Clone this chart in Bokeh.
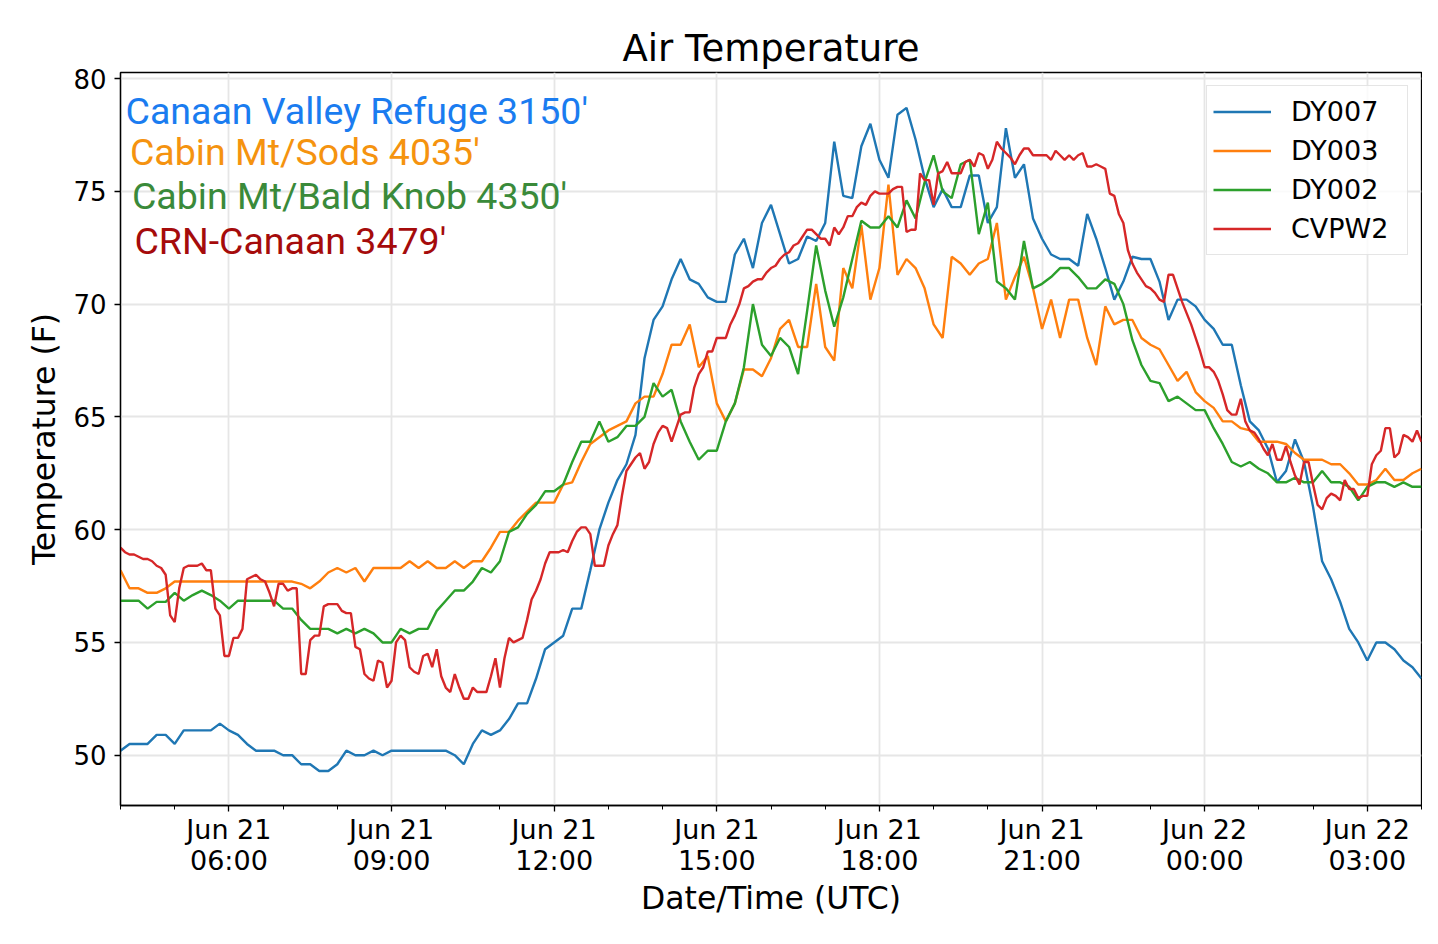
import pandas as pd
from bokeh.plotting import figure
from bokeh.models import Range1d, FixedTicker, Legend, LegendItem, Label
from bokeh.embed import file_html
from bokeh.resources import INLINE

START = pd.Timestamp("2018-06-21 04:00")
END = pd.Timestamp("2018-06-22 04:00")

# 10 minute stations
dy007 = [
    50.2, 50.5, 50.5, 50.5, 50.9, 50.9, 50.5, 51.1, 51.1, 51.1, 51.1, 51.4,
    51.1, 50.9, 50.5, 50.2, 50.2, 50.2, 50.0, 50.0, 49.6, 49.6, 49.3, 49.3,
    49.6, 50.2, 50.0, 50.0, 50.2, 50.0, 50.2, 50.2, 50.2, 50.2, 50.2, 50.2,
    50.2, 50.0, 49.6, 50.5, 51.1, 50.9, 51.1, 51.6, 52.3, 52.3, 53.4, 54.7,
    55.0, 55.3, 56.5, 56.5, 58.2, 60.0, 61.2, 62.2, 62.9, 64.2, 67.6, 69.3,
    69.9, 71.1, 72.0, 71.1, 70.9, 70.3, 70.1, 70.1, 72.2, 72.9, 71.6, 73.6,
    74.4, 73.1, 71.8, 72.0, 73.0, 72.8, 73.6, 77.2, 74.8, 74.7, 77.0, 78.0,
    76.4, 75.6, 78.4, 78.7, 77.3, 75.6, 74.3, 75.1, 74.3, 74.3, 75.7, 75.7,
    73.6, 74.3, 77.8, 75.6, 76.2, 73.8, 72.9, 72.2, 72.0, 72.0, 71.7, 74.0,
    72.9, 71.6, 70.2, 71.0, 72.1, 72.0, 72.0, 71.0, 69.3, 70.2, 70.2, 69.9,
    69.3, 68.9, 68.2, 68.2, 66.4, 64.8, 64.4, 63.6, 62.1, 62.6, 64.0, 63.0,
    61.0, 58.6, 57.8, 56.8, 55.6, 55.0, 54.2, 55.0, 55.0, 54.7, 54.2, 53.9,
    53.4,
]
dy003 = [
    58.2, 57.4, 57.4, 57.2, 57.2, 57.4, 57.7, 57.7, 57.7, 57.7, 57.7, 57.7,
    57.7, 57.7, 57.7, 57.7, 57.7, 57.7, 57.7, 57.7, 57.6, 57.4, 57.7, 58.1,
    58.3, 58.1, 58.3, 57.7, 58.3, 58.3, 58.3, 58.3, 58.6, 58.3, 58.6, 58.3,
    58.3, 58.6, 58.3, 58.6, 58.6, 59.2, 59.9, 59.9, 60.4, 60.8, 61.2, 61.2,
    61.2, 62.0, 62.1, 63.0, 63.8, 64.1, 64.4, 64.6, 64.8, 65.6, 65.9, 65.9,
    66.9, 68.2, 68.2, 69.1, 67.2, 67.7, 65.6, 64.8, 65.6, 67.1, 67.1, 66.8,
    67.6, 68.9, 69.3, 68.1, 68.1, 70.9, 68.1, 67.5, 71.6, 70.7, 73.5, 70.2,
    71.6, 75.3, 71.3, 72.0, 71.6, 70.7, 69.1, 68.5, 72.1, 71.8, 71.3, 71.8,
    72.0, 73.6, 70.2, 71.2, 72.1, 70.7, 68.9, 70.2, 68.5, 70.2, 70.2, 68.5,
    67.3, 69.9, 69.1, 69.3, 69.3, 68.5, 68.2, 68.0, 67.3, 66.6, 67.0, 66.1,
    65.7, 65.4, 64.8, 64.8, 64.5, 64.4, 63.9, 63.9, 63.9, 63.8, 63.4, 63.1,
    63.1, 63.1, 62.9, 62.9, 62.5, 62.0, 62.0, 62.2, 62.7, 62.2, 62.2, 62.5,
    62.7,
]
dy002 = [
    56.85, 56.85, 56.85, 56.5, 56.8, 56.8, 57.2, 56.85, 57.1, 57.3, 57.1, 56.85,
    56.5, 56.85, 56.85, 56.85, 56.85, 56.85, 56.5, 56.5, 56.0, 55.6, 55.6, 55.6,
    55.4, 55.6, 55.4, 55.6, 55.4, 55.0, 55.0, 55.6, 55.4, 55.6, 55.6, 56.4,
    56.85, 57.3, 57.3, 57.7, 58.3, 58.1, 58.6, 59.9, 60.1, 60.7, 61.1, 61.7,
    61.7, 62.0, 63.0, 63.9, 63.9, 64.8, 63.9, 64.1, 64.6, 64.6, 65.0, 66.5,
    65.9, 66.2, 64.8, 63.9, 63.1, 63.5, 63.5, 64.8, 65.6, 67.2, 70.0, 68.2,
    67.7, 68.5, 68.1, 66.9, 69.7, 72.6, 70.6, 69.0, 70.3, 72.0, 73.7, 73.4,
    73.4, 73.9, 73.4, 74.6, 73.8, 75.4, 76.6, 75.0, 74.7, 76.2, 76.4, 73.1,
    74.5, 71.0, 70.7, 70.2, 72.8, 70.7, 70.9, 71.2, 71.6, 71.6, 71.2, 70.7,
    70.7, 71.1, 70.9, 70.0, 68.4, 67.3, 66.6, 66.5, 65.7, 65.9, 65.6, 65.3,
    65.3, 64.5, 63.8, 63.0, 62.8, 63.0, 62.7, 62.5, 62.1, 62.1, 62.3, 62.1,
    62.1, 62.6, 62.1, 62.1, 61.9, 61.3, 61.9, 62.1, 62.1, 61.9, 62.1, 61.9,
    61.9,
]
# 5 minute station
cvpw2 = [
    59.2, 59.0, 58.9, 58.9, 58.8, 58.7, 58.7, 58.6, 58.4, 58.3, 58.0, 56.2,
    55.9, 57.4, 58.3, 58.4, 58.4, 58.4, 58.5, 58.2, 58.2, 56.5, 56.2, 54.4,
    54.4, 55.2, 55.2, 55.6, 57.8, 57.9, 58.0, 57.8, 57.7, 57.2, 56.6, 57.6,
    57.6, 57.3, 57.4, 57.4, 53.6, 53.6, 55.1, 55.3, 55.3, 56.6, 56.7, 56.7,
    56.7, 56.4, 56.3, 56.3, 54.8, 54.7, 53.6, 53.4, 53.3, 54.2, 54.1, 53.0,
    53.3, 55.0, 55.3, 55.1, 53.9, 53.7, 53.6, 54.4, 54.5, 53.9, 54.7, 53.5,
    53.0, 52.8, 53.6, 53.0, 52.5, 52.5, 53.0, 52.8, 52.8, 52.8, 53.5, 54.3,
    53.0, 54.3, 55.2, 55.0, 55.1, 55.2, 56.0, 56.9, 57.3, 57.8, 58.5, 59.0,
    59.0, 59.0, 59.1, 59.0, 59.5, 59.9, 60.1, 60.1, 59.8, 58.4, 58.4, 58.4,
    59.3, 59.8, 60.2, 61.5, 62.6, 62.9, 63.2, 63.4, 62.7, 63.0, 63.8, 64.3,
    64.6, 64.5, 63.9, 64.5, 65.1, 65.2, 65.2, 66.3, 66.9, 67.2, 67.9, 67.9,
    68.5, 68.5, 68.5, 69.1, 69.5, 70.0, 70.7, 70.8, 71.0, 71.1, 71.1, 71.4,
    71.6, 71.7, 72.0, 72.2, 72.3, 72.6, 72.7, 73.0, 73.3, 73.3, 73.1, 72.9,
    72.9, 72.6, 73.4, 73.1, 73.4, 73.9, 73.9, 74.3, 74.5, 74.4, 74.8, 75.0,
    74.9, 74.9, 74.9, 75.1, 75.2, 75.2, 73.2, 73.3, 73.3, 75.8, 75.5, 75.5,
    74.4, 75.8, 75.9, 76.3, 75.8, 75.8, 75.8, 76.3, 76.4, 76.1, 76.7, 76.6,
    76.0, 76.4, 77.2, 76.9, 76.7, 76.5, 76.2, 76.6, 76.9, 76.9, 76.6, 76.6,
    76.6, 76.6, 76.4, 76.8, 76.6, 76.4, 76.6, 76.4, 76.6, 76.7, 76.1, 76.1,
    76.2, 76.1, 76.0, 74.9, 74.8, 74.0, 73.6, 72.4, 71.8, 71.4, 71.1, 70.8,
    70.7, 70.5, 70.2, 70.1, 71.3, 71.3, 70.7, 70.1, 69.6, 69.1, 68.5, 67.9,
    67.2, 67.2, 67.0, 66.6, 66.0, 65.3, 65.1, 65.1, 65.8, 64.8, 64.4, 64.3,
    64.0, 63.6, 63.3, 63.8, 63.1, 63.1, 63.7, 63.0, 62.4, 62.0, 63.0, 63.0,
    62.0, 61.1, 60.9, 61.4, 61.6, 61.5, 61.3, 62.2, 61.8, 61.8, 61.4, 61.5,
    61.5, 62.9, 63.3, 63.5, 64.5, 64.5, 63.2, 63.4, 64.2, 64.1, 63.9, 64.4,
    63.9,
]

series_names = ["DY007", "DY003", "DY002", "CVPW2"]
series_colors = ["#1f77b4", "#ff7f0e", "#2ca02c", "#d62728"]

station_texts = ["Canaan Valley Refuge 3150'", "Cabin Mt/Sods 4035'",
                 "Cabin Mt/Bald Knob 4350'", "CRN-Canaan 3479'"]
station_colors = ["#1a7cf0", "#f5930f", "#3a8a3a", "#a50b0b"]

xtick_times = ["2018-06-21 06:00", "2018-06-21 09:00", "2018-06-21 12:00",
               "2018-06-21 15:00", "2018-06-21 18:00", "2018-06-21 21:00",
               "2018-06-22 00:00", "2018-06-22 03:00"]
xtick_labels = ["Jun 21\n06:00", "Jun 21\n09:00", "Jun 21\n12:00",
                "Jun 21\n15:00", "Jun 21\n18:00", "Jun 21\n21:00",
                "Jun 22\n00:00", "Jun 22\n03:00"]
yticks = [50, 55, 60, 65, 70, 75, 80]


def ms(ts):
    return int(pd.Timestamp(ts).value // 10**6)


t10 = pd.date_range(START, periods=len(dy007), freq="10min")
t5 = pd.date_range(START, periods=len(cvpw2), freq="5min")

p = figure(width=1422, height=928, x_axis_type="datetime",
           output_backend="svg", toolbar_location=None,
           x_range=Range1d(ms(START), ms(END)), y_range=Range1d(47.77, 80.27),
           min_border_left=120, min_border_right=1,
           min_border_top=72, min_border_bottom=123)

p.title.text = "Air Temperature"
p.title.align = "center"
p.title.text_font = "DejaVu Sans"
p.title.text_font_size = "37px"
p.title.text_font_style = "normal"
p.title.text_color = "black"
p.title.standoff = 6

p.outline_line_color = "black"
p.outline_line_width = 1.3

major = [ms(t) for t in xtick_times]
minor = [ms(t) for t in pd.date_range(START, END, freq="1h")]
p.xaxis.ticker = FixedTicker(ticks=major, minor_ticks=minor)
p.xaxis.major_label_overrides = dict(zip(major, xtick_labels))
p.yaxis.ticker = FixedTicker(ticks=yticks, minor_ticks=[])

for ax in (p.xaxis, p.yaxis):
    ax.axis_line_color = "black"
    ax.axis_line_width = 1.3
    ax.major_tick_line_color = "black"
    ax.major_tick_line_width = 1.3
    ax.minor_tick_line_color = "black"
    ax.minor_tick_line_width = 1.0
    ax.major_tick_in = 0
    ax.major_tick_out = 6
    ax.minor_tick_in = 0
    ax.minor_tick_out = 4
    ax.major_label_text_font = "DejaVu Sans"
    ax.major_label_text_color = "black"
    ax.axis_label_text_font = "DejaVu Sans"
    ax.axis_label_text_font_size = "31.5px"
    ax.axis_label_text_font_style = "normal"
    ax.axis_label_text_color = "black"

p.xaxis.major_label_text_font_size = "27px"
p.yaxis.major_label_text_font_size = "26px"
p.xaxis.major_label_text_line_height = 1.0
p.xaxis.axis_label = "Date/Time (UTC)"
p.yaxis.axis_label = "Temperature (F)"
p.xaxis.major_label_standoff = 2
p.xaxis.axis_label_standoff = 1
p.yaxis.major_label_standoff = 8
p.yaxis.axis_label_standoff = 8

p.grid.grid_line_color = "#e6e6e6"
p.grid.grid_line_width = 1.8

renderers = []
for xs, ys, c in zip([t10, t10, t10, t5], [dy007, dy003, dy002, cvpw2], series_colors):
    renderers.append(p.line(xs, ys, line_color=c, line_width=2.4))

legend = Legend(items=[LegendItem(label=n, renderers=[r]) for n, r in zip(series_names, renderers)],
                location="top_right", margin=13, padding=6, spacing=0,
                glyph_width=58, glyph_height=39, label_height=39, label_width=110,
                label_standoff=20, label_text_font="DejaVu Sans",
                label_text_font_size="27px", label_text_color="black",
                border_line_color="#cccccc", border_line_width=1.3,
                background_fill_alpha=0.8)
p.add_layout(legend)

# station names, anchored by hours after start and temperature
label_hours = [0.092, 0.174, 0.211, 0.256]
label_temps = [78.55, 76.73, 74.81, 72.81]
for txt, col, h, v in zip(station_texts, station_colors, label_hours, label_temps):
    p.add_layout(Label(x=ms(START + pd.Timedelta(hours=h)), y=v, text=txt,
                       text_font="Roboto", text_font_size="37.5px", text_color=col,
                       text_align="left", text_baseline="alphabetic"))

open("out.html", "w").write(file_html(p, INLINE))
